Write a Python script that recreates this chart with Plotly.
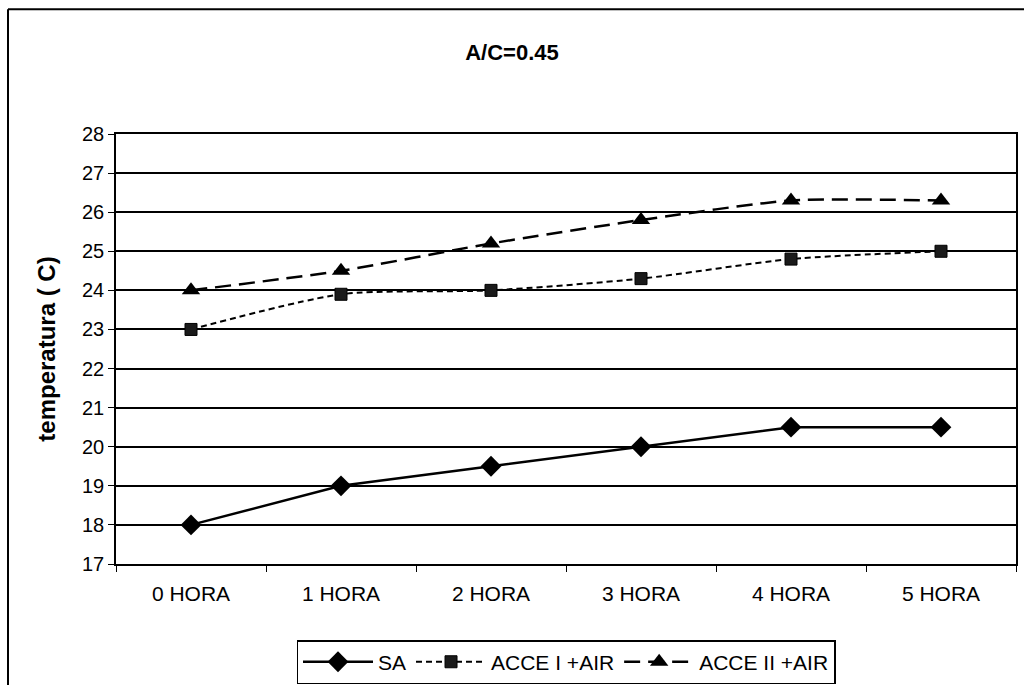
import plotly.graph_objects as go

# Temperature readings per hour for each mix (A/C = 0.45)
horas = ["0 HORA", "1 HORA", "2 HORA", "3 HORA", "4 HORA", "5 HORA"]
sa = [18, 19, 19.5, 20, 20.5, 20.5]
acce_i_air = [23, 23.9, 24, 24.3, 24.8, 25]
acce_ii_air = [24, 24.5, 25.2, 25.8, 26.3, 26.3]
y_ticks = list(range(17, 29))

FONT = "Liberation Sans, Arial, sans-serif"

fig = go.Figure()

fig.add_trace(go.Scatter(
    x=horas, y=sa, name="SA", mode="lines+markers",
    line=dict(color="black", width=2.5),
    marker=dict(symbol="diamond", size=16, color="black"),
))
fig.add_trace(go.Scatter(
    x=horas, y=acce_i_air, name="ACCE I +AIR", mode="lines+markers",
    line=dict(color="black", width=2, dash="6px,4px", shape="spline", smoothing=0.7),
    marker=dict(symbol="square", size=12, color="#1a1a1a",
                line=dict(color="black", width=1)),
))
fig.add_trace(go.Scatter(
    x=horas, y=acce_ii_air, name="ACCE II +AIR", mode="lines+markers",
    line=dict(color="black", width=2.5, dash="16px,8px", shape="spline", smoothing=0.6),
    marker=dict(symbol="triangle-up", size=16, color="black"),
))

# Chart frame (left and top edges of the outer box)
fig.add_shape(type="line", xref="paper", yref="paper",
              x0=-0.12, x1=-0.12, y0=1.29, y1=-0.4,
              line=dict(color="black", width=2))
fig.add_shape(type="line", xref="paper", yref="paper",
              x0=-0.12, x1=1.2, y0=1.29, y1=1.29,
              line=dict(color="black", width=2))

fig.update_layout(
    width=1024, height=685,
    margin=dict(l=116, r=8, t=134, b=121, autoexpand=False),
    paper_bgcolor="white", plot_bgcolor="white",
    font=dict(family=FONT, color="black", size=20),
    title=dict(text="<b>A/C=0.45</b>", x=0.5, xanchor="center",
               y=1 - 52 / 685, yanchor="middle",
               font=dict(family=FONT, size=22, color="black")),
    showlegend=True,
    legend=dict(orientation="h", x=0.5, xanchor="center",
                y=-0.177, yanchor="top",
                bordercolor="black", borderwidth=1.5,
                bgcolor="white", itemwidth=70,
                font=dict(family=FONT, size=21, color="black"),
                tracegroupgap=0, itemsizing="trace"),
)

fig.update_xaxes(
    type="category", range=[-0.5, 5.5],
    showgrid=False, showline=True, linecolor="black", linewidth=1.5,
    mirror=True, ticks="outside", ticklen=6, tickcolor="black",
    tickson="boundaries", ticklabelstandoff=10,
    tickfont=dict(family=FONT, size=21, color="black"),
)
fig.update_yaxes(
    range=[17, 28], tickvals=y_ticks,
    showgrid=True, gridcolor="black", gridwidth=1.5,
    showline=True, linecolor="black", linewidth=1.5, mirror=True,
    ticks="outside", ticklen=6, tickcolor="black",
    tickfont=dict(family=FONT, size=20, color="black"),
    zeroline=False,
    title=dict(text="<b>temperatura ( C)</b>", standoff=20,
               font=dict(family=FONT, size=24, color="black")),
)

fig.write_html("out.html")
